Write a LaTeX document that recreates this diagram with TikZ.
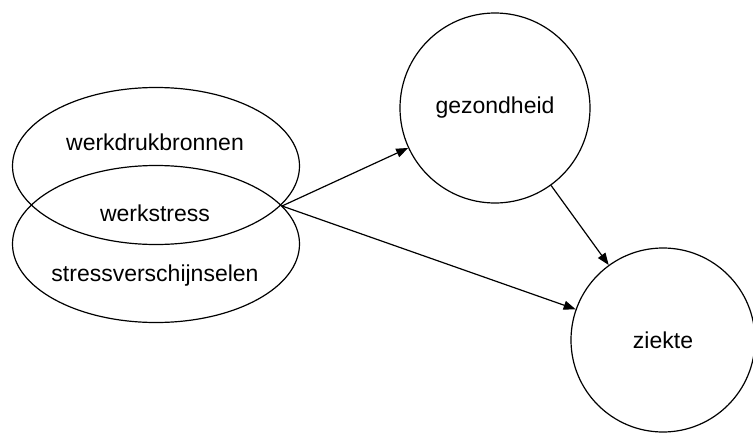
\documentclass[tikz,border=0pt]{standalone}
\usepackage{fontspec}
\setmainfont{Liberation Sans}
\usepackage{tikz}
\usetikzlibrary{shapes.geometric, arrows.meta, positioning}
\tikzstyle{arrow} = [line width=1.2pt,-{Triangle[length=12pt,width=9pt]}]
\tikzstyle{bol}   = [circle, draw, line width=1.2pt, minimum size=190pt, inner sep=0pt]
\tikzstyle{ovaal} = [ellipse, draw, line width=1.2pt, minimum width=287pt, minimum height=157pt, inner sep=0pt]
\tikzset{every node/.style={align=center, font=\fontsize{23}{27}\selectfont}}

\begin{document}
\begin{tikzpicture}[x=1pt, y=-1pt]
  \useasboundingbox (0,0) rectangle (753,434);

  % Two overlapping ellipses
  \node[ovaal] (bronnen) at (156,166) {};
  \node[ovaal] (verschijnselen) at (156,244) {};
  \node (tbronnen) at (155,142) {werkdrukbronnen};
  \node (tstress) at (155,213) {werkstress};
  \node (tverschijnselen) at (155,276) {stressverschijnselen};
  \coordinate (kruis) at (282,206);

  % Outcomes
  \node[bol] (gez) at (495,108) {gezondheid};
  \node[bol, minimum size=184pt] (ziekte) at (663,340) {ziekte};

  % Arrows
  \draw[arrow] (kruis) -- (gez);
  \draw[arrow] (kruis) -- (ziekte);
  \draw[arrow] (gez) -- (ziekte);
\end{tikzpicture}
\end{document}
